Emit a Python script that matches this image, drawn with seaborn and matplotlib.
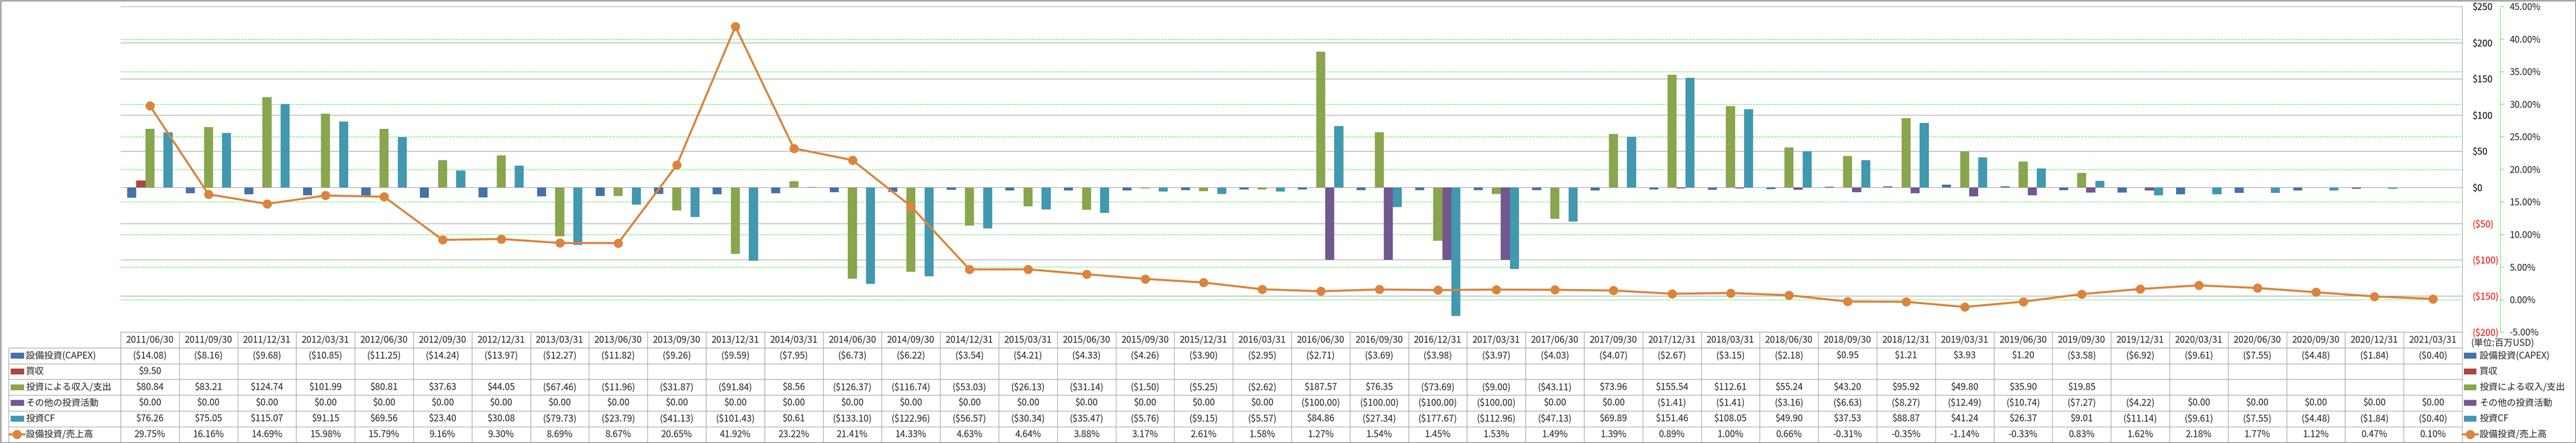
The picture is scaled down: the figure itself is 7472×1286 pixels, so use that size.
import numpy as np
import pandas as pd
import seaborn as sns
import matplotlib.pyplot as plt
from matplotlib.patches import Rectangle
from matplotlib.lines import Line2D

nan = np.nan

# Quarter end dates
dates = ['2011/06/30', '2011/09/30', '2011/12/31', '2012/03/31', '2012/06/30', '2012/09/30',
         '2012/12/31', '2013/03/31', '2013/06/30', '2013/09/30', '2013/12/31', '2014/03/31',
         '2014/06/30', '2014/09/30', '2014/12/31', '2015/03/31', '2015/06/30', '2015/09/30',
         '2015/12/31', '2016/03/31', '2016/06/30', '2016/09/30', '2016/12/31', '2017/03/31',
         '2017/06/30', '2017/09/30', '2017/12/31', '2018/03/31', '2018/06/30', '2018/09/30',
         '2018/12/31', '2019/03/31', '2019/06/30', '2019/09/30', '2019/12/31', '2020/03/31',
         '2020/06/30', '2020/09/30', '2020/12/31', '2021/03/31']

# Values in million USD
capex = [-14.08, -8.16, -9.68, -10.85, -11.25, -14.24, -13.97, -12.27, -11.82, -9.26,
         -9.59, -7.95, -6.73, -6.22, -3.54, -4.21, -4.33, -4.26, -3.90, -2.95,
         -2.71, -3.69, -3.98, -3.97, -4.03, -4.07, -2.67, -3.15, -2.18, 0.95,
         1.21, 3.93, 1.20, -3.58, -6.92, -9.61, -7.55, -4.48, -1.84, -0.40]
acquisition = [9.50, nan, nan, nan, nan, nan, nan, nan, nan, nan,
               nan, nan, nan, nan, nan, nan, nan, nan, nan, nan,
               nan, nan, nan, nan, nan, nan, nan, nan, nan, nan,
               nan, nan, nan, nan, nan, nan, nan, nan, nan, nan]
investments = [80.84, 83.21, 124.74, 101.99, 80.81, 37.63, 44.05, -67.46, -11.96, -31.87,
               -91.84, 8.56, -126.37, -116.74, -53.03, -26.13, -31.14, -1.50, -5.25, -2.62,
               187.57, 76.35, -73.69, -9.00, -43.11, 73.96, 155.54, 112.61, 55.24, 43.20,
               95.92, 49.80, 35.90, 19.85, nan, nan, nan, nan, nan, nan]
other_inv = [0.00, 0.00, 0.00, 0.00, 0.00, 0.00, 0.00, 0.00, 0.00, 0.00,
             0.00, 0.00, 0.00, 0.00, 0.00, 0.00, 0.00, 0.00, 0.00, 0.00,
             -100.00, -100.00, -100.00, -100.00, 0.00, 0.00, -1.41, -1.41, -3.16, -6.63,
             -8.27, -12.49, -10.74, -7.27, -4.22, 0.00, 0.00, 0.00, 0.00, 0.00]
invest_cf = [76.26, 75.05, 115.07, 91.15, 69.56, 23.40, 30.08, -79.73, -23.79, -41.13,
             -101.43, 0.61, -133.10, -122.96, -56.57, -30.34, -35.47, -5.76, -9.15, -5.57,
             84.86, -27.34, -177.67, -112.96, -47.13, 69.89, 151.46, 108.05, 49.90, 37.53,
             88.87, 41.24, 26.37, 9.01, -11.14, -9.61, -7.55, -4.48, -1.84, -0.40]
# CAPEX / revenue (%)
capex_ratio = [29.75, 16.16, 14.69, 15.98, 15.79, 9.16, 9.30, 8.69, 8.67, 20.65,
               41.92, 23.22, 21.41, 14.33, 4.63, 4.64, 3.88, 3.17, 2.61, 1.58,
               1.27, 1.54, 1.45, 1.53, 1.49, 1.39, 0.89, 1.00, 0.66, -0.31,
               -0.35, -1.14, -0.33, 0.83, 1.62, 2.18, 1.77, 1.12, 0.47, 0.10]

series_names = ['設備投資(CAPEX)', '買収', '投資による収入/支出', 'その他の投資活動', '投資CF']
line_name = '設備投資/売上高'
unit_label = '(単位:百万USD)'
series_colors = ['#4572A7', '#AA4643', '#89A54E', '#71588F', '#4198AF']
line_color = '#DB843D'

usd_ticks = [-200, -150, -100, -50, 0, 50, 100, 150, 200, 250]
pct_ticks = [-5, 0, 5, 10, 15, 20, 25, 30, 35, 40, 45]

bars = pd.DataFrame({'date': dates, series_names[0]: capex, series_names[1]: acquisition,
                     series_names[2]: investments, series_names[3]: other_inv,
                     series_names[4]: invest_cf})
long = bars.melt(id_vars='date', var_name='series', value_name='value')

sns.set_style('white')
plt.rcParams['font.family'] = ['Noto Sans CJK JP', 'DejaVu Sans']

W, H = 7472, 1286
X0, X1, Y0, Y1 = 350, 7142, 19, 964
FS = 19
GRAY = '#8C8C8C'
GREEN = '#1EE61E'

fig = plt.figure(figsize=(W / 100, H / 100), dpi=100)
fig.patch.set_facecolor('white')

# full-figure axes in pixel coordinates for the data table
tab = fig.add_axes([0, 0, 1, 1])
tab.set_xlim(0, W)
tab.set_ylim(H, 0)
tab.axis('off')

ax = fig.add_axes([X0 / W, 1 - Y1 / H, (X1 - X0) / W, (Y1 - Y0) / H])
sns.barplot(data=long, x='date', y='value', hue='series', order=dates,
            hue_order=series_names, palette=dict(zip(series_names, series_colors)),
            width=0.775, saturation=1, errorbar=None, linewidth=0, legend=False, ax=ax)
ax.set_xlim(-0.5, len(dates) - 0.5)
ax.set_ylim(usd_ticks[0], usd_ticks[-1])
ax.set_xticks([])
ax.set_xlabel('')
ax.set_ylabel('')
ax.yaxis.grid(True, color=GRAY, lw=1.0)
ax.set_axisbelow(True)
for s in ['top', 'left']:
    ax.spines[s].set_visible(False)
for s in ['right', 'bottom']:
    ax.spines[s].set_color(GRAY)
    ax.spines[s].set_linewidth(1.0)

# secondary-axis gridlines, drawn behind the bars
lo, hi = usd_ticks[0], usd_ticks[-1]
plo, phi = pct_ticks[0], pct_ticks[-1]
for t in pct_ticks[1:-1]:
    ax.axhline(lo + (t - plo) * (hi - lo) / (phi - plo), color=GREEN, lw=1.0,
               ls=(0, (4.3, 2)), zorder=0.6)

ax2 = ax.twinx()
sns.lineplot(x=np.arange(len(dates)), y=capex_ratio, ax=ax2, color=line_color, lw=4.3,
             marker='o', markersize=19, markeredgewidth=0)
ax2.set_xlim(-0.5, len(dates) - 0.5)
ax2.set_ylim(plo, phi)
ax2.set_yticks(pct_ticks)
ax2.set_yticklabels([f'{v:.2f}%' for v in pct_ticks])
for lab, v in zip(ax2.get_yticklabels(), pct_ticks):
    lab.set_color('red' if v < 0 else 'black')
ax2.tick_params(axis='y', length=8, width=1, color=GREEN, pad=12, labelsize=FS)
for s in ['top', 'left', 'bottom']:
    ax2.spines[s].set_visible(False)
ax2.spines['right'].set_position(('outward', 79))
ax2.spines['right'].set_color(GREEN)
ax2.spines['right'].set_linestyle((0, (4.3, 2)))
ax2.spines['right'].set_linewidth(1.0)
ax2.set_xlabel('')

# primary dollar axis also sits on the right (twinx moved it left)
ax.yaxis.tick_right()
ax.set_yticks(usd_ticks)
ax.set_yticklabels([f'${v}' if v >= 0 else f'(${-v})' for v in usd_ticks])
for lab, v in zip(ax.get_yticklabels(), usd_ticks):
    lab.set_color('red' if v < 0 else 'black')
ax.tick_params(axis='y', left=False, right=True, labelleft=False, labelright=True,
               length=0, pad=21, labelsize=FS)

# ---- data table ----
n = len(dates)
cw = (X1 - X0) / n
row_y = [1010 + i * 45.7 for i in range(7)]
TX0 = 25
for i in range(n + 1):
    tab.add_line(Line2D([X0 + i * cw] * 2, [Y1, row_y[-1]], color=GRAY, lw=1.0))
tab.add_line(Line2D([TX0, TX0], [row_y[0], row_y[-1]], color=GRAY, lw=1.0))
for y in row_y:
    tab.add_line(Line2D([TX0, X1], [y, y], color=GRAY, lw=1.0))

for i, d in enumerate(dates):
    tab.text(X0 + (i + 0.5) * cw, (Y1 + row_y[0]) / 2, d, ha='center', va='center', fontsize=FS)


def money(v):
    if np.isnan(v):
        return ''
    return f'${v:.2f}' if v >= 0 else f'(${-v:.2f})'


rows = [capex, acquisition, investments, other_inv, invest_cf]
for r, vals in enumerate(rows):
    yc = (row_y[r] + row_y[r + 1]) / 2
    for i, v in enumerate(vals):
        tab.text(X0 + (i + 0.5) * cw, yc, money(v), ha='center', va='center', fontsize=FS)
    tab.add_patch(Rectangle((31, yc - 8.5), 39, 17, color=series_colors[r], lw=0))
    tab.text(75, yc, series_names[r], ha='left', va='center', fontsize=FS)
    tab.add_patch(Rectangle((7147, yc - 8.5), 36, 17, color=series_colors[r], lw=0))
    tab.text(7192, yc, series_names[r], ha='left', va='center', fontsize=FS)

yc = (row_y[5] + row_y[6]) / 2
for i, v in enumerate(capex_ratio):
    tab.text(X0 + (i + 0.5) * cw, yc, f'{v:.2f}%', ha='center', va='center', fontsize=FS)
tab.add_line(Line2D([27, 72], [yc, yc], color=line_color, lw=4.3))
tab.add_line(Line2D([49], [yc], color=line_color, marker='o', markersize=19, markeredgewidth=0))
tab.text(75, yc, line_name, ha='left', va='center', fontsize=FS)
tab.add_line(Line2D([7143, 7188], [yc, yc], color=line_color, lw=4.3))
tab.add_line(Line2D([7165], [yc], color=line_color, marker='o', markersize=19, markeredgewidth=0))
tab.text(7192, yc, line_name, ha='left', va='center', fontsize=FS)

tab.text(7168, 996, unit_label, ha='left', va='center', fontsize=FS)

# chart border
tab.add_patch(Rectangle((1.5, 1.5), W - 3, H - 3, fill=False, ec='#868686', lw=2.2))

fig.savefig('out.png', dpi=100)
